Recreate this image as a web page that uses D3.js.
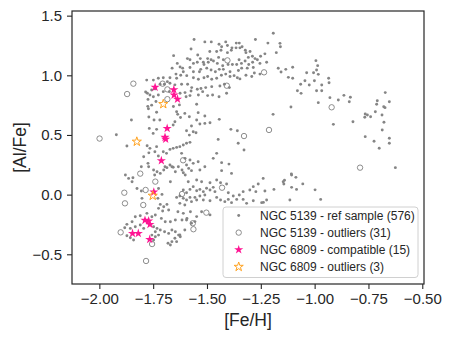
<!DOCTYPE html>
<html>
<head>
<meta charset="utf-8">
<script src="https://cdn.jsdelivr.net/npm/d3@7"></script>
<style>
  body { margin: 0; background: #fff; }
  svg { display: block; font-family: "Liberation Sans", Arial, sans-serif; }
</style>
</head>
<body>
<div id="chartArea"></div>
<script>
// [Fe/H], [Al/Fe] pairs
var refSample = [
  [-1.192,1.352],[-1.161,1.268],[-1.159,1.24],[-1.178,1.19],[-1.169,1.059],[-1.156,1.028],[-1.134,1.05],[-1.102,1.067],
  [-1.122,0.983],[-1.102,0.975],[-0.994,1.123],[-0.986,1.081],[-1.005,1.022],[-0.991,1.045],[-0.983,1.008],[-1.037,1.022],
  [-1.045,0.955],[-1.065,0.925],[-1.025,0.919],[-1.001,0.955],[-0.967,0.919],[-0.991,0.871],[-0.967,0.871],[-1.08,0.871],
  [-1.063,0.849],[-0.935,0.975],[-0.933,0.938],[-0.929,0.813],[-0.89,0.793],[-0.864,0.832],[-0.834,0.816],[-0.839,0.779],
  [-0.983,0.771],[-1.11,0.734],[-1.193,0.673],[-0.913,0.589],[-0.822,0.611],[-0.765,0.486],[-0.724,0.447],[-0.70,0.389],
  [-0.653,0.472],[-0.653,0.43],[-0.686,0.542],[-0.678,0.606],[-0.687,0.667],[-0.673,0.729],[-0.679,0.737],[-0.672,0.855],
  [-0.653,0.779],[-0.709,0.787],[-0.712,0.757],[-0.718,0.695],[-0.765,0.676],[-0.755,0.667],[-0.767,0.648],[-0.74,0.653],
  [-0.625,0.226],[-1.108,0.173],
  [-1.56,1.30],[-1.51,1.28],[-1.48,1.28],[-1.444,1.26],[-1.432,1.24],[-1.413,1.28],[-1.405,1.25],[-1.364,1.27],[-1.35,1.27],
  [-1.337,1.24],[-1.384,1.23],[-1.275,1.30],[-1.217,1.27],[-1.322,1.21],[-1.30,1.20],[-1.574,1.22],[-1.543,1.17],[-1.531,1.14],
  [-1.487,1.20],[-1.455,1.20],[-1.435,1.21],[-1.405,1.19],[-1.387,1.21],[-1.365,1.23],[-1.347,1.23],[-1.319,1.19],[-1.289,1.16],
  [-1.277,1.14],[-1.251,1.16],[-1.231,1.18],[-1.655,1.165],[-1.497,1.14],[-1.481,1.13],[-1.446,1.15],[-1.424,1.13],[-1.351,1.13],
  [-1.308,1.15],[-1.638,1.10],[-1.625,1.07],[-1.613,1.06],[-1.591,1.14],[-1.579,1.13],[-1.563,1.10],[-1.545,1.11],[-1.517,1.11],
  [-1.514,1.09],[-1.494,1.11],[-1.47,1.12],[-1.452,1.10],[-1.427,1.08],[-1.402,1.09],[-1.382,1.09],[-1.362,1.09],[-1.34,1.10],
  [-1.323,1.12],[-1.306,1.09],[-1.288,1.11],[-1.266,1.13],[-1.254,1.10],[-1.223,1.11],[-1.285,1.065],[-1.313,1.06],[-1.339,1.06],
  [-1.354,1.04],[-1.393,1.03],[-1.424,1.05],[-1.443,1.05],[-1.461,1.03],[-1.481,1.045],[-1.501,1.06],[-1.529,1.05],[-1.535,1.03],
  [-1.563,1.03],[-1.579,1.065],[-1.61,1.03],[-1.644,1.01],[-1.662,1.06],
  [-1.672,0.98],[-1.641,0.975],[-1.622,1.00],[-1.594,0.997],[-1.563,0.98],[-1.54,0.967],[-1.514,0.98],[-1.497,0.99],[-1.478,0.967],
  [-1.455,0.975],[-1.433,1.00],[-1.413,1.01],[-1.393,0.99],[-1.374,0.997],[-1.359,0.98],[-1.347,0.97],[-1.319,1.00],[-1.292,0.99],
  [-1.28,1.02],[-1.254,1.01],
  [-1.749,0.96],[-1.726,0.975],[-1.703,0.98],[-1.684,0.947],[-1.718,0.925],[-1.698,0.925],[-1.672,0.933],[-1.649,0.92],[-1.618,0.925],
  [-1.59,0.925],[-1.571,0.897],[-1.545,0.883],[-1.528,0.89],[-1.506,0.897],[-1.478,0.905],[-1.44,0.91],[-1.419,0.925],[-1.396,0.897],
  [-1.777,0.85],[-1.757,0.877],[-1.741,0.886],[-1.765,0.835],[-1.749,0.82],[-1.726,0.835],[-1.703,0.863],[-1.675,0.863],[-1.625,0.85],
  [-1.602,0.855],[-1.574,0.869],[-1.579,0.83],[-1.597,0.82],[-1.54,0.835],[-1.52,0.863],[-1.497,0.83],[-1.474,0.835],[-1.444,0.82],
  [-1.409,0.85],[-1.737,0.78],[-1.757,0.75],[-1.772,0.72],[-1.656,0.738],[-1.628,0.752],[-1.548,0.757],
  [-1.734,0.69],[-1.746,0.626],[-1.636,0.673],
  [-1.641,0.695],[-1.623,0.647],[-1.603,0.681],[-1.582,0.653],[-1.541,0.687],[-1.51,0.659],[-1.443,0.631],[-1.548,0.625],[-1.533,0.592],
  [-1.51,0.597],[-1.486,0.603],[-1.572,0.575],[-1.595,0.536],[-1.564,0.527],[-1.582,0.499],[-1.551,0.519],[-1.649,0.611],[-1.657,0.583],
  [-1.719,0.625],[-1.734,0.547],[-1.75,0.513],[-1.389,0.547],[-1.359,0.536],[-1.448,0.463],[-1.355,0.43],[-1.328,0.374],[-1.61,0.416],
  [-1.595,0.43],[-1.579,0.438],[-1.626,0.402],[-1.641,0.396],[-1.657,0.388],[-1.672,0.379],[-1.703,0.36],[-1.688,0.346],[-1.734,0.402],
  [-1.742,0.36],[-1.726,0.324],[-1.765,0.388],[-1.618,0.346],[-1.602,0.304],[-1.579,0.29],[-1.564,0.262],[-1.541,0.276],[-1.595,0.248],
  [-1.633,0.234],[-1.657,0.229],[-1.672,0.248],[-1.695,0.234],[-1.455,0.346],[-1.471,0.304],[-1.432,0.268],[-1.398,0.256],[-1.51,0.234],
  [-1.533,0.206],[-1.572,0.201],[-1.61,0.184],[-1.432,0.201],[-1.386,0.178],
  [-1.587,0.108],[-1.548,0.122],[-1.525,0.108],[-1.486,0.10],[-1.455,0.122],[-1.437,0.10],[-1.409,0.089],[-1.262,0.089],[-1.239,0.136],
  [-1.285,0.067],[-1.301,0.039],[-1.332,0.025],[-1.273,0.025],[-1.231,0.03],[-1.189,0.044],[-1.146,0.108],[-1.143,0.089],[-1.107,0.164],
  [-1.087,0.145],[-1.107,0.061],[-1.084,0.044],[-1.35,-0.003],[-1.378,-0.012],[-1.401,0.016],[-1.401,-0.04],[-1.362,-0.04],
  [-1.61,0.039],[-1.595,0.016],[-1.579,0.044],[-1.564,0.067],[-1.548,0.033],[-1.533,0.044],[-1.517,0.025],[-1.502,0.053],[-1.486,0.039],
  [-1.471,0.061],[-1.463,0.025],[-1.51,-0.003],[-1.533,-0.012],[-1.556,-0.023],[-1.579,-0.023],[-1.595,-0.045],[-1.61,-0.031],
  [-1.626,-0.012],[-1.641,-0.023],[-1.626,-0.073],[-1.603,-0.087],[-1.572,-0.059],[-1.548,-0.045],[-1.517,-0.045],[-1.486,-0.051],
  [-1.455,-0.023],[-1.437,-0.045],[-1.417,-0.059],[-1.386,-0.067],[-1.332,-0.04],[-1.316,-0.073],[-1.285,-0.051],[-1.246,-0.067],
  [-1.223,-0.045],[-1.115,-0.045],[-0.998,0.04],[-0.972,-0.04],[-1.055,0.09],[-1.14,0.12],[-1.238,-0.065],
  [-1.556,-0.226],[-1.548,-0.184],[-1.525,-0.143],[-1.486,-0.17],[-1.595,-0.212],[-1.572,-0.24],[-1.603,-0.296],
  [-1.626,-0.338],[-1.649,-0.366],[-1.641,-0.394],[-1.61,-0.157],
  [-1.879,0.164],[-1.864,0.136],[-1.844,0.142],[-1.848,0.108],[-1.771,0.234],[-1.748,0.206],[-1.732,0.192],[-1.743,0.164],[-1.717,0.178],
  [-1.701,0.206],[-1.686,0.226],[-1.663,0.234],[-1.647,0.192],[-1.616,0.206],[-1.585,0.22],[-1.601,0.164],
  [-1.67,0.108],[-1.825,0.052],[-1.805,0.03],[-1.802,-0.031],[-1.725,0.052],[-1.709,0.002],[-1.728,-0.031],[-1.717,-0.082],
  [-1.701,-0.101],[-1.725,-0.115],[-1.706,-0.137],[-1.686,-0.082],[-1.678,-0.129],[-1.635,-0.143],
  [-1.577,-0.143],[-1.593,-0.199],[-1.616,-0.213],[-1.647,-0.213],[-1.67,-0.227],[-1.694,-0.227],[-1.712,-0.199],[-1.74,-0.171],
  [-1.756,-0.185],[-1.779,-0.157],[-1.81,-0.177],[-1.833,-0.185],[-1.848,-0.227],[-1.872,-0.249],[-1.882,-0.277],[-1.856,-0.283],
  [-1.833,-0.269],[-1.81,-0.255],[-1.794,-0.283],[-1.748,-0.269],[-1.732,-0.283],[-1.74,-0.311],[-1.717,-0.297],[-1.697,-0.311],
  [-1.678,-0.325],[-1.663,-0.297],[-1.647,-0.311],[-1.632,-0.339],[-1.624,-0.353],[-1.663,-0.394],[-1.67,-0.422],[-1.681,-0.408],
  [-1.725,-0.339],[-1.74,-0.353],[-1.748,-0.38],[-1.841,-0.38],[-1.856,-0.361],[-1.872,-0.344],[-1.756,-0.339],
  [-1.851,0.625],[-1.921,0.502],[-1.872,0.407],[-1.768,0.555],[-1.794,0.318],[-1.805,0.234],[-1.774,0.262],[-1.774,0.798],
  [-1.78,0.96],[-1.785,0.86],[-1.775,0.74],[-1.77,0.65],[-1.778,0.41],[-1.77,0.35]
];

var refOutliers = [
  [-1.999,0.47],[-1.842,0.93],[-1.871,0.843],[-1.706,0.93],[-1.684,0.882],[-1.684,0.80],[-1.405,1.125],[-1.408,0.913],
  [-1.235,1.025],[-1.212,0.542],[-1.328,0.491],[-0.921,0.732],[-0.789,0.226],[-1.611,0.288],[-1.81,0.176],[-1.74,0.109],
  [-1.884,0.016],[-1.881,-0.073],[-1.785,0.039],[-1.796,-0.087],[-1.43,0.058],[-1.616,0.005],[-1.566,-0.24],[-1.563,-0.29],
  [-1.503,-0.151],[-1.901,-0.316],[-1.755,-0.414],[-1.783,-0.556]
];

var compatible = [
  [-1.741,0.90],[-1.654,0.88],[-1.653,0.835],[-1.637,0.80],[-1.685,0.555],[-1.695,0.48],[-1.692,0.465],[-1.712,0.285],
  [-1.747,0.022],[-1.788,-0.215],[-1.771,-0.22],[-1.765,-0.25],[-1.846,-0.325],[-1.819,-0.325],[-1.766,-0.375]
];

var outliers6809 = [[-1.703,0.759],[-1.826,0.444],[-1.752,-0.009]];

var xTicks = [-2.00, -1.75, -1.50, -1.25, -1.00, -0.75, -0.50];
var yTicks = [-0.5, 0.0, 0.5, 1.0, 1.5];

var legendLabels = [
  'NGC 5139 - ref sample (576)',
  'NGC 5139 - outliers (31)',
  'NGC 6809 - compatible (15)',
  'NGC 6809 - outliers (3)'
];

var W = 455, H = 341;
var margin = {top: 11, right: 31, bottom: 57, left: 72};
var w = W - margin.left - margin.right,
    h = H - margin.top - margin.bottom;
var ink = '#262626';

var svg = d3.select('#chartArea').append('svg')
    .attr('width', W)
    .attr('height', H);

var g = svg.append('g')
    .attr('transform', 'translate(' + margin.left + ',' + margin.top + ')');

var xScale = d3.scaleLinear().domain([-2.127, -0.492]).range([0, w]);
var yScale = d3.scaleLinear().domain([-0.749, 1.539]).range([h, 0]);

var starPath = d3.symbol().type(d3.symbolStar).size(26);

// ref sample dots
g.append('g').selectAll('circle')
    .data(refSample)
    .enter()
    .append('circle')
    .attr('cx', function (d) { return xScale(d[0]); })
    .attr('cy', function (d) { return yScale(d[1]); })
    .attr('r', 1.45)
    .attr('fill', '#858585');

// ref outliers, open circles
g.append('g').selectAll('circle')
    .data(refOutliers)
    .enter()
    .append('circle')
    .attr('cx', function (d) { return xScale(d[0]); })
    .attr('cy', function (d) { return yScale(d[1]); })
    .attr('r', 2.7)
    .attr('fill', 'none')
    .attr('stroke', '#808080')
    .attr('stroke-width', 0.9);

g.append('g').selectAll('path')
    .data(compatible)
    .enter()
    .append('path')
    .attr('d', starPath)
    .attr('transform', function (d) {
        return 'translate(' + xScale(d[0]) + ',' + yScale(d[1]) + ')';
    })
    .attr('fill', '#ff1493');

g.append('g').selectAll('path')
    .data(outliers6809)
    .enter()
    .append('path')
    .attr('d', starPath)
    .attr('transform', function (d) {
        return 'translate(' + xScale(d[0]) + ',' + yScale(d[1]) + ')';
    })
    .attr('fill', 'none')
    .attr('stroke', '#ffa21f')
    .attr('stroke-width', 1);

// axes
var xAxis = g.append('g')
    .attr('transform', 'translate(0,' + h + ')')
    .call(d3.axisBottom(xScale).tickValues(xTicks).tickFormat(d3.format('.2f'))
        .tickSize(5).tickSizeOuter(0));
xAxis.selectAll('text').attr('y', 9.5).attr('dy', '0.71em');

var yAxis = g.append('g')
    .call(d3.axisLeft(yScale).tickValues(yTicks).tickFormat(d3.format('.1f'))
        .tickSize(5).tickSizeOuter(0).tickPadding(5));

[xAxis, yAxis].forEach(function (a) {
    a.select('.domain').remove();
    a.selectAll('line').attr('stroke', ink).attr('stroke-width', 1.1);
    a.selectAll('text')
        .attr('fill', ink)
        .style('font-size', '15px')
        .style('font-family', '"Liberation Sans", Arial, sans-serif');
});

// frame
g.append('rect')
    .attr('width', w)
    .attr('height', h)
    .attr('fill', 'none')
    .attr('stroke', ink)
    .attr('stroke-width', 1.2);

svg.append('text')
    .attr('x', margin.left + w / 2)
    .attr('y', 325.5)
    .attr('text-anchor', 'middle')
    .attr('fill', ink)
    .style('font-size', '17.5px')
    .text('[Fe/H]');

svg.append('text')
    .attr('transform', 'translate(26,' + (margin.top + h / 2) + ') rotate(-90)')
    .attr('text-anchor', 'middle')
    .attr('fill', ink)
    .style('font-size', '17.5px')
    .text('[Al/Fe]');

// legend
var lg = svg.append('g').attr('transform', 'translate(223,207)');
lg.append('rect')
    .attr('width', 195)
    .attr('height', 70.5)
    .attr('rx', 3)
    .attr('fill', 'rgba(255,255,255,0.8)')
    .attr('stroke', '#d0d0d0')
    .attr('stroke-width', 1);

var rows = lg.selectAll('.row')
    .data(legendLabels)
    .enter()
    .append('g')
    .attr('class', 'row')
    .attr('transform', function (d, i) { return 'translate(0,' + (8.5 + i * 17.1) + ')'; });

rows.append('text')
    .attr('x', 37)
    .attr('y', 4.3)
    .attr('fill', ink)
    .style('font-size', '12px')
    .text(function (d) { return d; });

rows.filter(function (d, i) { return i === 0; }).append('circle')
    .attr('cx', 15.7).attr('r', 1.45).attr('fill', '#858585');
rows.filter(function (d, i) { return i === 1; }).append('circle')
    .attr('cx', 15.7).attr('r', 2.7).attr('fill', 'none')
    .attr('stroke', '#808080').attr('stroke-width', 0.9);
rows.filter(function (d, i) { return i === 2; }).append('path')
    .attr('d', starPath).attr('transform', 'translate(15.7,0)').attr('fill', '#ff1493');
rows.filter(function (d, i) { return i === 3; }).append('path')
    .attr('d', starPath).attr('transform', 'translate(15.7,0)')
    .attr('fill', 'none').attr('stroke', '#ffa21f').attr('stroke-width', 1);
</script>
</body>
</html>
